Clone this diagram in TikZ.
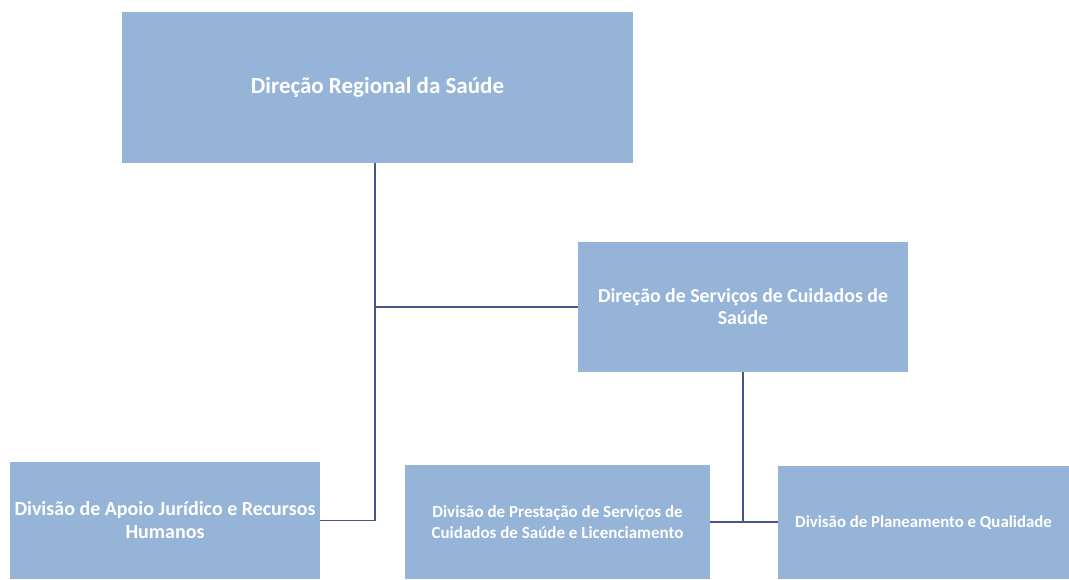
\documentclass[tikz,border=0pt]{standalone}
\usepackage{fontspec}
\setmainfont{Carlito}
\usetikzlibrary{positioning, calc}
\definecolor{boxfill}{RGB}{149,180,216}
\definecolor{linkcol}{RGB}{72,86,140}
\tikzstyle{unit} = [rectangle, fill=boxfill, text=white, font=\bfseries,
    align=center, inner sep=2pt]
\tikzstyle{link} = [draw=linkcol, line width=1.6pt]

\begin{document}
\begin{tikzpicture}[x=1pt, y=-1pt]
    \useasboundingbox (0,0) rectangle (1069,579);
    % Define units
    \node [unit, minimum width=511pt, minimum height=151pt,
        font=\bfseries\fontsize{23}{27}\selectfont] (drs) at (377.5,87.5)
        {Direção Regional da Saúde};
    \node [unit, minimum width=330pt, minimum height=130pt,
        font=\bfseries\fontsize{19.8}{22}\selectfont] (dscs) at (743,307)
        {Direção de Serviços de Cuidados de\\Saúde};
    \node [unit, minimum width=310pt, minimum height=117pt,
        font=\bfseries\fontsize{20}{23}\selectfont] (dajrh) at (165,520.5)
        {Divisão de Apoio Jurídico e Recursos\\Humanos};
    \node [unit, minimum width=305pt, minimum height=114pt,
        font=\bfseries\fontsize{17}{21}\selectfont] (dpscs) at (557.5,522)
        {Divisão de Prestação de Serviços de\\Cuidados de Saúde e Licenciamento};
    \node [unit, minimum width=291pt, minimum height=113pt,
        font=\bfseries\fontsize{16.8}{20}\selectfont] (dpq) at (923.5,522.5)
        {Divisão de Planeamento e Qualidade};

    % Connectors
    \coordinate (trunk) at ([xshift=-2.5pt]drs.south);
    \draw [link] (trunk) |- (dajrh.east);
    \draw [link] (dscs.west) -- (dscs.west -| trunk);
    \draw [link] (dscs.south) -- (dscs.south |- dpscs.east);
    \draw [link] (dpscs.east) -- (dpscs.east -| dpq.west);
\end{tikzpicture}
\end{document}
